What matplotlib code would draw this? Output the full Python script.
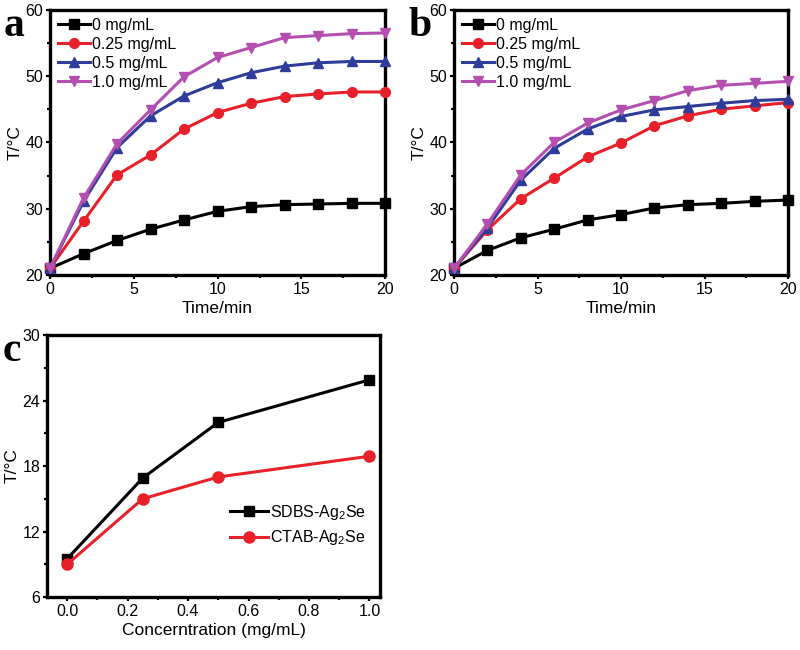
import matplotlib.pyplot as plt
from matplotlib.ticker import MultipleLocator

# =============================================================================
# Data
# =============================================================================

time_min = [0, 2, 4, 6, 8, 10, 12, 14, 16, 18, 20]
series_labels = ['0 mg/mL', '0.25 mg/mL', '0.5 mg/mL', '1.0 mg/mL']

# panel a
a_0 = [21, 23.2, 25.2, 26.9, 28.3, 29.6, 30.3, 30.6, 30.7, 30.8, 30.8]
a_025 = [21, 28.1, 35.1, 38.1, 42.0, 44.5, 45.9, 46.9, 47.3, 47.6, 47.6]
a_05 = [21, 31.1, 39.2, 44.0, 47.0, 49.0, 50.5, 51.5, 52.0, 52.2, 52.2]
a_10 = [21, 31.6, 39.8, 44.9, 49.9, 52.8, 54.3, 55.8, 56.1, 56.4, 56.5]

# panel b
b_0 = [21, 23.7, 25.6, 26.9, 28.3, 29.1, 30.1, 30.6, 30.8, 31.1, 31.3]
b_025 = [21, 26.8, 31.5, 34.6, 37.8, 39.9, 42.5, 44.0, 45.0, 45.5, 46.0]
b_05 = [21, 27.1, 34.3, 39.1, 42.0, 43.9, 44.9, 45.4, 45.9, 46.3, 46.5]
b_10 = [21, 27.7, 35.1, 40.0, 42.9, 44.9, 46.3, 47.8, 48.6, 48.9, 49.2]

# panel c
conc = [0.0, 0.25, 0.5, 1.0]
sdbs = [9.5, 16.9, 22.0, 25.9]
ctab = [9.0, 15.0, 17.0, 18.9]

# =============================================================================
# Styling
# =============================================================================

plt.rcParams['font.family'] = ['Liberation Sans', 'DejaVu Sans']
plt.rcParams['mathtext.fontset'] = 'custom'
plt.rcParams['mathtext.rm'] = 'Liberation Sans'
plt.rcParams['mathtext.it'] = 'Liberation Sans'

COLORS = ['#000000', '#e8202a', '#2e3c9a', '#b44fb0']
MARKERS = ['s', 'o', '^', 'v']
SPINE_W = 2.4
LINE_W = 2.2
MS = 7


def style_axes(ax):
    for sp in ax.spines.values():
        sp.set_linewidth(SPINE_W)
    ax.tick_params(which='major', direction='out', length=3, width=1.6,
                   labelsize=11.5, pad=2)
    ax.tick_params(which='minor', direction='out', length=2, width=1.6)


def time_panel(ax, ys):
    for y, lab, c, m in zip(ys, series_labels, COLORS, MARKERS):
        ax.plot(time_min, y, color=c, marker=m, markersize=MS,
                linewidth=LINE_W, label=lab, clip_on=False, zorder=3)
    ax.set_xlim(0, 20)
    ax.set_ylim(20, 60)
    ax.xaxis.set_major_locator(MultipleLocator(5))
    ax.xaxis.set_minor_locator(MultipleLocator(2.5))
    ax.yaxis.set_major_locator(MultipleLocator(10))
    ax.yaxis.set_minor_locator(MultipleLocator(5))
    ax.set_xlabel('Time/min', fontsize=12.5, labelpad=3)
    ax.set_ylabel('T/°C', fontsize=12.5, labelpad=2)
    ax.legend(loc='upper left', frameon=False, fontsize=11.5,
              handlelength=2.0, handletextpad=0.1, labelspacing=0.25,
              borderaxespad=0.3, borderpad=0.2)
    style_axes(ax)


fig = plt.figure(figsize=(8, 6.5), dpi=100)

ax_a = fig.add_axes([0.0625, 0.577, 0.419, 0.408])
ax_b = fig.add_axes([0.5675, 0.577, 0.4175, 0.408])
ax_c = fig.add_axes([0.059, 0.0815, 0.416, 0.403])

time_panel(ax_a, [a_0, a_025, a_05, a_10])
time_panel(ax_b, [b_0, b_025, b_05, b_10])

# panel c
ax_c.plot(conc, sdbs, color=COLORS[0], marker='s', markersize=MS,
          linewidth=LINE_W, label='SDBS-Ag$_2$Se', zorder=3)
ax_c.plot(conc, ctab, color=COLORS[1], marker='o', markersize=MS + 1,
          linewidth=LINE_W, label='CTAB-Ag$_2$Se', zorder=3)
ax_c.set_xlim(-0.066, 1.035)
ax_c.set_ylim(6, 30)
ax_c.xaxis.set_minor_locator(MultipleLocator(0.1))
ax_c.yaxis.set_major_locator(MultipleLocator(6))
ax_c.yaxis.set_minor_locator(MultipleLocator(3))
ax_c.set_xticks([0.0, 0.2, 0.4, 0.6, 0.8, 1.0])
ax_c.set_xticklabels(['0.0', '0.2', '0.4', '0.6', '0.8', '1.0'])
ax_c.set_xlabel('Concerntration (mg/mL)', fontsize=12.5, labelpad=3)
ax_c.set_ylabel('T/°C', fontsize=12.5, labelpad=2)
ax_c.legend(loc='center right', bbox_to_anchor=(1.0, 0.275), frameon=False,
            fontsize=11.5, handlelength=2.4, handletextpad=0.1,
            labelspacing=0.4)
style_axes(ax_c)

# panel letters
for x, y, letter in [(0.005, 0.945, 'a'), (0.51, 0.945, 'b'), (0.003, 0.445, 'c')]:
    fig.text(x, y, letter, fontsize=30, fontweight='bold',
             family=['Liberation Serif', 'DejaVu Serif'])

fig.savefig('out.png', dpi=100, facecolor='white')
